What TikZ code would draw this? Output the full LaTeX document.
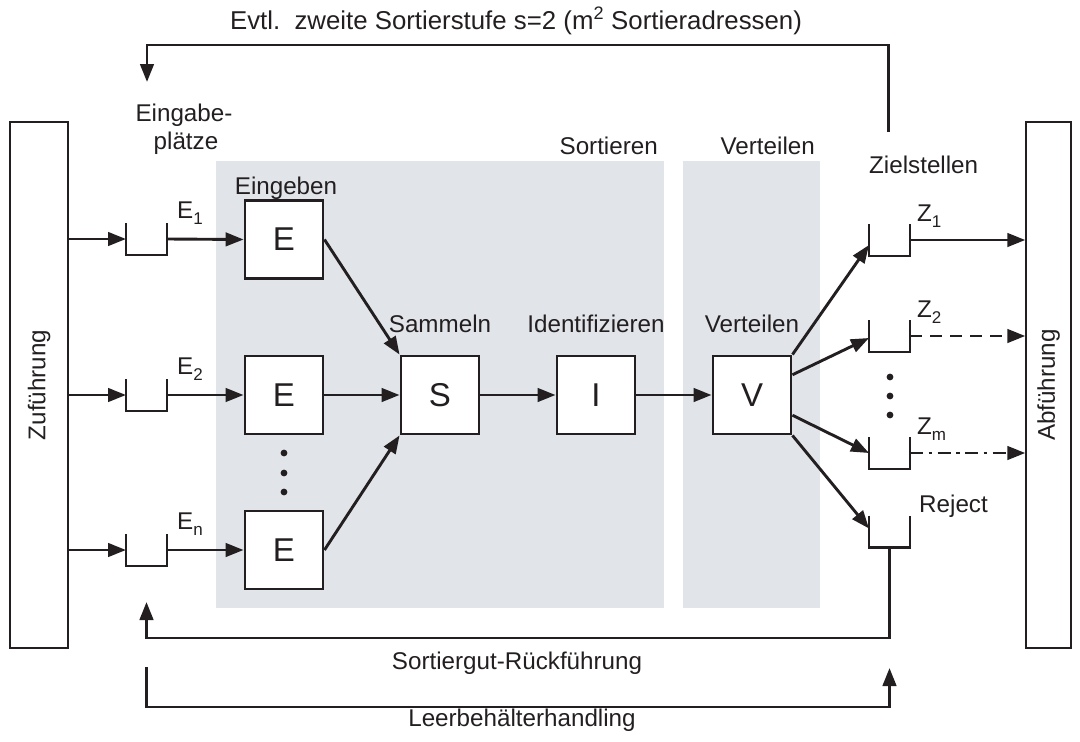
\documentclass[tikz,border=0pt]{standalone}
\usepackage{fontspec}
\setmainfont{Liberation Sans}
\usetikzlibrary{arrows.meta,calc}
\definecolor{ink}{RGB}{35,31,32}
\definecolor{panel}{RGB}{225,228,233}
\newcommand{\sub}[1]{\raisebox{-6pt}{\fontsize{17}{17}\selectfont #1}}
\tikzset{
  lbl/.style={font=\fontsize{24.2}{28}\selectfont, text=ink, inner sep=0pt},
  box/.style={draw=ink, line width=2.9pt, fill=white, minimum size=78pt,
    inner sep=0pt, font=\fontsize{33}{33}\selectfont, text=ink},
  buf/.style={minimum width=41pt, minimum height=32pt, inner sep=0pt, outer sep=0pt},
  wall/.style={draw=ink, line width=2.9pt},
  flow/.style={draw=ink, line width=2.9pt, -{Triangle[length=18pt,width=13.5pt]}},
  station/.style={draw=ink, line width=1.4pt, inner sep=0pt, minimum height=526pt,
    font=\fontsize{24.2}{28}\selectfont, text=ink},
  panelbox/.style={fill=panel, inner sep=0pt, minimum height=447pt},
  dot/.style={circle, fill=ink, inner sep=0pt, minimum size=6.8pt}
}
\begin{document}
\begin{tikzpicture}[x=1pt,y=-1pt]
\useasboundingbox (0,0) rectangle (1080,742);

% background panels
\node[panelbox, minimum width=448pt] (sortpanel) at (440,384.5) {};
\node[panelbox, minimum width=137pt] (vertpanel) at (751.5,384.5) {};

% supply and discharge conveyors
\node[station, minimum width=58pt] (zu) at (39,385) {};
\node[lbl, rotate=90] at (zu.center) {Zuführung};
\node[station, minimum width=45pt] (ab) at (1048.5,385) {};
\node[lbl, rotate=90] at (ab.center) {Abführung};

% input places
\node[buf] (e1) at (146.5,239) {};
\node[buf] (e2) at (146.5,395) {};
\node[buf] (en) at (146.5,550) {};
% destinations
\node[buf] (z1) at (889.5,240) {};
\node[buf] (z2) at (889.5,336) {};
\node[buf] (zm) at (889.5,453) {};
\node[buf] (rj) at (889.5,531.5) {};
\foreach \b in {e1,e2,en,z1,z2,zm,rj}
  \draw[wall] (\b.north west) |- (\b.south) -| (\b.north east);

% function blocks
\node[box] (E1) at (284,239.5) {E};
\node[box] (E2) at (284,395) {E};
\node[box] (En) at (284,550) {E};
\node[box] (S) at (440,395) {S};
\node[box] (I) at (596,395) {I};
\node[box] (V) at (752,395) {V};

% ellipsis dots
\node[dot] (ed1) at (284,453) {};
\node[dot] (ed2) at (284,473) {};
\node[dot] (ed3) at (284,492) {};
\node[dot] (zd1) at (890,377) {};
\node[dot] (zd2) at (890,396) {};
\node[dot] (zd3) at (890,415) {};

% labels
\node[lbl, anchor=base, font=\fontsize{25.8}{30}\selectfont] (top) at (516,29)
  {Evtl.\ \ zweite Sortierstufe s=2 (m\textsuperscript{2} Sortieradressen)};
\node[lbl, anchor=base] (eg1) at (184,121) {Eingabe-};
\node[lbl, anchor=base] (eg2) at (186,149) {plätze};
\node[lbl, anchor=base] (lein) at (286,194) {Eingeben};
\node[lbl, anchor=base] (lsam) at (440,332) {Sammeln};
\node[lbl, anchor=base] (lid) at (596,332) {Identifizieren};
\node[lbl, anchor=base] (lver) at (752,332) {Verteilen};
\node[lbl, anchor=base east] (lsort) at (658,154) {Sortieren};
\node[lbl, anchor=base east] (lvert) at (815,154) {Verteilen};
\node[lbl, anchor=base west] (lziel) at (869,173) {Zielstellen};
\node[lbl, anchor=base west] (le1) at (177,218) {E\sub{1}};
\node[lbl, anchor=base west] (le2) at (177,374) {E\sub{2}};
\node[lbl, anchor=base west] (len) at (177,529) {E\sub{n}};
\node[lbl, anchor=base west] (lz1) at (917,221) {Z\sub{1}};
\node[lbl, anchor=base west] (lz2) at (917,317) {Z\sub{2}};
\node[lbl, anchor=base west] (lzm) at (917,434) {Z\sub{m}};
\node[lbl, anchor=base west] (lrej) at (919,512) {Reject};
\node[lbl, anchor=base] (lrueck) at (517,669) {Sortiergut-Rückführung};
\node[lbl, anchor=base] (lleer) at (522,726) {Leerbehälterhandling};

% supply to input places to input stations
\foreach \b/\e in {e1/E1,e2/E2,en/En}{
  \draw[flow] (zu.east |- \b.center) -- (\b.west);
  \draw[flow] (\b.east) -- (\e.west);
}
% gathering, identifying, distributing
\draw[flow] (E1.east) -- (S.north west);
\draw[flow] (E2.east) -- (S.west);
\draw[flow] (En.east) -- (S.south west);
\draw[flow] (S.east) -- (I.west);
\draw[flow] (I.east) -- (V.west);
\draw[flow] (V.north east) -- ($(z1.west)+(0,5)$);
\draw[flow] ($(V.north east)!0.25!(V.south east)$) -- ($(z2.west)+(0,2)$);
\draw[flow] ($(V.north east)!0.75!(V.south east)$) -- (zm.west);
\draw[flow] (V.south east) -- ($(rj.west)+(0,-3)$);
% destinations to discharge
\draw[flow] (z1.east) -- (z1.east -| ab.west);
\draw[flow, dash pattern=on 12pt off 8pt] (z2.east) -- (z2.east -| ab.west);
\draw[flow, dash pattern=on 13pt off 5.5pt on 3.5pt off 5.5pt] (zm.east) -- (zm.east -| ab.west);

% reject return loop
\coordinate (rettip) at (146.5,602);
\coordinate (retcorner) at (146.5,638);
\draw[flow] (rj.south) |- (retcorner) -- (rettip);

% empty container handling
\coordinate (leerstart) at (146.5,667);
\coordinate (leercorner) at (146.5,707);
\coordinate (leertip) at (889.5,668);
\draw[flow] (leerstart) -- (leercorner) -| (leertip);

% optional second sorting stage
\coordinate (s2start) at (888.5,132);
\coordinate (s2tip) at (147,82);
\draw[flow] (s2start) -- ++(0,-87) -| (s2tip);
\end{tikzpicture}
\end{document}
